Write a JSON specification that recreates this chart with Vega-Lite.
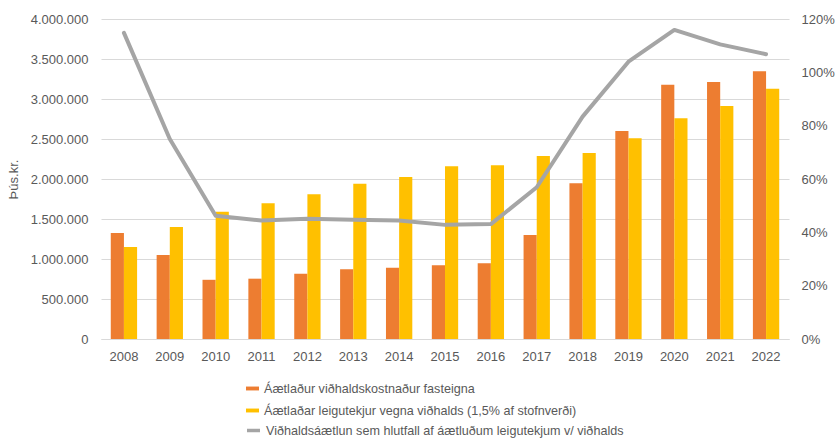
{
  "$schema": "https://vega.github.io/schema/vega-lite/v6.json",
  "width": 688,
  "height": 320,
  "autosize": {"type": "none"},
  "padding": {"left": 101, "top": 19, "right": 47, "bottom": 100},
  "config": {
    "locale": {"number": {"decimal": ",", "thousands": ".", "grouping": [3], "currency": ["", " kr."]}},
    "view": {"stroke": null},
    "font": "Liberation Sans",
    "axis": {"labelFont": "Liberation Sans", "labelFontSize": 13, "labelColor": "#595959", "titleColor": "#595959", "titleFont": "Liberation Sans", "titleFontSize": 13, "titleFontWeight": "normal"},
    "legend": {"labelFont": "Liberation Sans", "labelFontSize": 12.6, "labelColor": "#595959", "padding": 0}
  },
  "datasets": {
    "bars": [
      {"year": "2008", "series": "Áætlaður viðhaldskostnaður fasteigna", "value": 1325000},
      {"year": "2008", "series": "Áætlaðar leigutekjur vegna viðhalds (1,5% af stofnverði)", "value": 1150000},
      {"year": "2009", "series": "Áætlaður viðhaldskostnaður fasteigna", "value": 1050000},
      {"year": "2009", "series": "Áætlaðar leigutekjur vegna viðhalds (1,5% af stofnverði)", "value": 1400000},
      {"year": "2010", "series": "Áætlaður viðhaldskostnaður fasteigna", "value": 740000},
      {"year": "2010", "series": "Áætlaðar leigutekjur vegna viðhalds (1,5% af stofnverði)", "value": 1590000},
      {"year": "2011", "series": "Áætlaður viðhaldskostnaður fasteigna", "value": 754000},
      {"year": "2011", "series": "Áætlaðar leigutekjur vegna viðhalds (1,5% af stofnverði)", "value": 1696000},
      {"year": "2012", "series": "Áætlaður viðhaldskostnaður fasteigna", "value": 816000},
      {"year": "2012", "series": "Áætlaðar leigutekjur vegna viðhalds (1,5% af stofnverði)", "value": 1808000},
      {"year": "2013", "series": "Áætlaður viðhaldskostnaður fasteigna", "value": 871000},
      {"year": "2013", "series": "Áætlaðar leigutekjur vegna viðhalds (1,5% af stofnverði)", "value": 1942000},
      {"year": "2014", "series": "Áætlaður viðhaldskostnaður fasteigna", "value": 891000},
      {"year": "2014", "series": "Áætlaðar leigutekjur vegna viðhalds (1,5% af stofnverði)", "value": 2025000},
      {"year": "2015", "series": "Áætlaður viðhaldskostnaður fasteigna", "value": 921000},
      {"year": "2015", "series": "Áætlaðar leigutekjur vegna viðhalds (1,5% af stofnverði)", "value": 2160000},
      {"year": "2016", "series": "Áætlaður viðhaldskostnaður fasteigna", "value": 946000},
      {"year": "2016", "series": "Áætlaðar leigutekjur vegna viðhalds (1,5% af stofnverði)", "value": 2171000},
      {"year": "2017", "series": "Áætlaður viðhaldskostnaður fasteigna", "value": 1300000},
      {"year": "2017", "series": "Áætlaðar leigutekjur vegna viðhalds (1,5% af stofnverði)", "value": 2287000},
      {"year": "2018", "series": "Áætlaður viðhaldskostnaður fasteigna", "value": 1946000},
      {"year": "2018", "series": "Áætlaðar leigutekjur vegna viðhalds (1,5% af stofnverði)", "value": 2325000},
      {"year": "2019", "series": "Áætlaður viðhaldskostnaður fasteigna", "value": 2600000},
      {"year": "2019", "series": "Áætlaðar leigutekjur vegna viðhalds (1,5% af stofnverði)", "value": 2508000},
      {"year": "2020", "series": "Áætlaður viðhaldskostnaður fasteigna", "value": 3179000},
      {"year": "2020", "series": "Áætlaðar leigutekjur vegna viðhalds (1,5% af stofnverði)", "value": 2758000},
      {"year": "2021", "series": "Áætlaður viðhaldskostnaður fasteigna", "value": 3212000},
      {"year": "2021", "series": "Áætlaðar leigutekjur vegna viðhalds (1,5% af stofnverði)", "value": 2912000},
      {"year": "2022", "series": "Áætlaður viðhaldskostnaður fasteigna", "value": 3346000},
      {"year": "2022", "series": "Áætlaðar leigutekjur vegna viðhalds (1,5% af stofnverði)", "value": 3129000}
    ],
    "ratio": [
      {"year": "2008", "label": "Viðhaldsáætlun sem hlutfall af áætluðum leigutekjum v/ viðhalds", "ratio": 1.148},
      {"year": "2009", "label": "Viðhaldsáætlun sem hlutfall af áætluðum leigutekjum v/ viðhalds", "ratio": 0.75},
      {"year": "2010", "label": "Viðhaldsáætlun sem hlutfall af áætluðum leigutekjum v/ viðhalds", "ratio": 0.462},
      {"year": "2011", "label": "Viðhaldsáætlun sem hlutfall af áætluðum leigutekjum v/ viðhalds", "ratio": 0.444},
      {"year": "2012", "label": "Viðhaldsáætlun sem hlutfall af áætluðum leigutekjum v/ viðhalds", "ratio": 0.451},
      {"year": "2013", "label": "Viðhaldsáætlun sem hlutfall af áætluðum leigutekjum v/ viðhalds", "ratio": 0.447},
      {"year": "2014", "label": "Viðhaldsáætlun sem hlutfall af áætluðum leigutekjum v/ viðhalds", "ratio": 0.444},
      {"year": "2015", "label": "Viðhaldsáætlun sem hlutfall af áætluðum leigutekjum v/ viðhalds", "ratio": 0.428},
      {"year": "2016", "label": "Viðhaldsáætlun sem hlutfall af áætluðum leigutekjum v/ viðhalds", "ratio": 0.431},
      {"year": "2017", "label": "Viðhaldsáætlun sem hlutfall af áætluðum leigutekjum v/ viðhalds", "ratio": 0.569},
      {"year": "2018", "label": "Viðhaldsáætlun sem hlutfall af áætluðum leigutekjum v/ viðhalds", "ratio": 0.834},
      {"year": "2019", "label": "Viðhaldsáætlun sem hlutfall af áætluðum leigutekjum v/ viðhalds", "ratio": 1.04},
      {"year": "2020", "label": "Viðhaldsáætlun sem hlutfall af áætluðum leigutekjum v/ viðhalds", "ratio": 1.159},
      {"year": "2021", "label": "Viðhaldsáætlun sem hlutfall af áætluðum leigutekjum v/ viðhalds", "ratio": 1.105},
      {"year": "2022", "label": "Viðhaldsáætlun sem hlutfall af áætluðum leigutekjum v/ viðhalds", "ratio": 1.068}
    ]
  },
  "layer": [
    {
      "data": {"name": "bars"},
      "mark": {"type": "bar"},
      "encoding": {
        "x": {
          "field": "year", "type": "nominal",
          "scale": {"paddingInner": 0.426, "paddingOuter": 0.213},
          "axis": {"title": null, "labelAngle": 0, "ticks": false, "domainColor": "#D9D9D9", "labelPadding": 11, "grid": false}
        },
        "xOffset": {"field": "series", "type": "nominal", "sort": ["Áætlaður viðhaldskostnaður fasteigna", "Áætlaðar leigutekjur vegna viðhalds (1,5% af stofnverði)"]},
        "y": {
          "field": "value", "type": "quantitative",
          "scale": {"domain": [0, 4000000]},
          "axis": {"title": "Þús.kr.", "values": [0, 500000, 1000000, 1500000, 2000000, 2500000, 3000000, 3500000, 4000000], "format": ",d", "domain": false, "ticks": false, "labelPadding": 13, "gridColor": "#D9D9D9", "titlePadding": 10}
        },
        "fill": {
          "field": "series", "type": "nominal",
          "scale": {"domain": ["Áætlaður viðhaldskostnaður fasteigna", "Áætlaðar leigutekjur vegna viðhalds (1,5% af stofnverði)"], "range": ["#ED7D31", "#FFC000"]},
          "legend": {"title": null, "orient": "none", "legendX": 144, "legendY": 362, "symbolType": "M-1,-0.3H1V0.3H-1Z", "symbolSize": 169, "rowPadding": 7, "labelOffset": 4, "labelLimit": 600}
        }
      }
    },
    {
      "data": {"name": "ratio"},
      "mark": {"type": "line", "strokeWidth": 4, "strokeJoin": "round", "strokeCap": "round"},
      "encoding": {
        "x": {"field": "year", "type": "nominal"},
        "y": {
          "field": "ratio", "type": "quantitative",
          "scale": {"domain": [0, 1.2]},
          "axis": {"orient": "right", "title": null, "values": [0, 0.2, 0.4, 0.6, 0.8, 1.0, 1.2], "format": ".0%", "domain": false, "ticks": false, "grid": false, "labelPadding": 12}
        },
        "stroke": {
          "field": "label", "type": "nominal",
          "scale": {"range": ["#A5A5A5"]},
          "legend": {"title": null, "orient": "none", "legendX": 144, "legendY": 403, "symbolType": "stroke", "symbolSize": 169, "symbolStrokeWidth": 3.5, "labelOffset": 4, "labelLimit": 600}
        }
      }
    }
  ],
  "resolve": {"scale": {"y": "independent"}}
}
